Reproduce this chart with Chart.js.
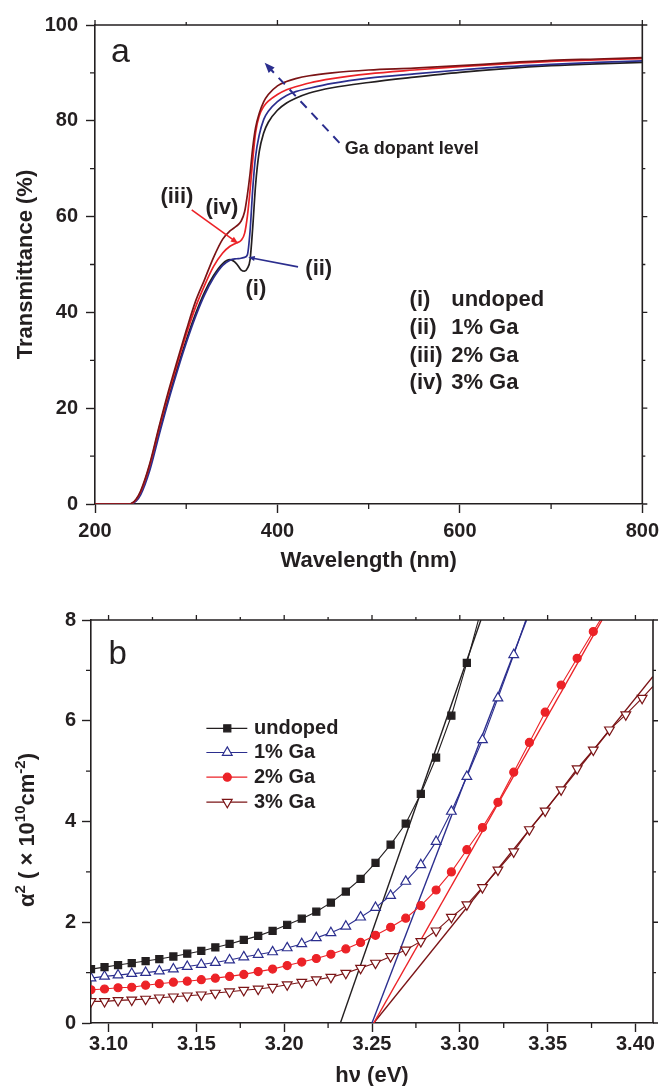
<!DOCTYPE html>
<html>
<head>
<meta charset="utf-8">
<title>Transmittance and absorption edge of Ga-doped films</title>
<script src="https://cdn.jsdelivr.net/npm/chart.js@4.4.1/dist/chart.umd.min.js"></script>
<style>
  html, body { margin: 0; padding: 0; background: #fff; }
  #wrap { position: relative; width: 665px; height: 1086px; }
  canvas { position: absolute; left: 0; }
  #chartA { top: 0; }
  #chartB { top: 580px; }
</style>
</head>
<body>
<div id="wrap">
  <canvas id="chartA" width="665" height="580"></canvas>
  <canvas id="chartB" width="665" height="506"></canvas>
</div>
<script>
// ---- panel (a): transmittance spectra ----
const wavelengths = [200, 238, 245, 250, 260, 270, 280, 290, 300, 310, 320, 330, 340, 348, 355, 360, 364, 367, 370, 373,
  376, 380, 385, 390, 400, 410, 420, 435, 460, 500, 550, 600, 650, 700, 750, 800];
const transUndoped = [0, 0, 0.8, 2.2, 7.6, 14.8, 21.8, 28.3, 34.2, 39.6, 44.2, 47.7, 50.2, 51.0, 50.2, 48.9, 48.6, 49.2, 51, 58,
  66.5, 73.5, 77.5, 79.7, 82.2, 83.7, 84.7, 85.8, 86.9, 88.0, 89.1, 90.1, 90.9, 91.5, 91.9, 92.2];
const transGa1 = [0, 0, 0.6, 1.9, 7.0, 14.2, 21.2, 27.6, 33.6, 39.0, 43.6, 47.2, 49.8, 50.9, 51.2, 51.3, 51.5, 52.0, 57, 66,
  72.5, 77, 80.3, 82, 84.0, 85.3, 86.1, 86.8, 87.8, 88.9, 89.8, 90.6, 91.3, 91.8, 92.2, 92.5];
const transGa2 = [0, 0, 0.9, 2.5, 8.1, 15.6, 22.7, 29.2, 35.4, 41.0, 45.6, 49.6, 52.4, 53.8, 54.5, 55.0, 56.5, 60, 65.5, 72,
  77.5, 81, 83, 84.1, 85.5, 86.5, 87.1, 87.9, 88.8, 89.8, 90.6, 91.3, 91.9, 92.4, 92.7, 93.0];
const transGa3 = [0, 0, 1.0, 2.7, 8.4, 16.0, 23.2, 29.8, 36.2, 42.2, 46.8, 51.5, 55.3, 57.0, 58.0, 59.0, 61, 64.5, 69, 74.5,
  78.5, 81.5, 84.0, 85.5, 87.3, 88.2, 88.8, 89.4, 90.0, 90.6, 91.0, 91.5, 92.1, 92.6, 92.9, 93.2];
const legendTextA = ['(i)', '(ii)', '(iii)', '(iv)'];
const legendNamesA = ['undoped', '1% Ga', '2% Ga', '3% Ga'];

// ---- panel (b): Tauc plot ----
const photonEnergy = [3.0900, 3.0977, 3.1054, 3.1132, 3.1211, 3.1289, 3.1369, 3.1448, 3.1528, 3.1608,
  3.1689, 3.1770, 3.1852, 3.1934, 3.2017, 3.2100, 3.2183, 3.2266, 3.2351, 3.2435,
  3.2520, 3.2606, 3.2692, 3.2778, 3.2865, 3.2952, 3.3040, 3.3129, 3.3217, 3.3307,
  3.3396, 3.3486, 3.3577, 3.3668, 3.3760, 3.3852, 3.3945, 3.4038, 3.4131];
const alphaUndoped = [1.07, 1.11, 1.15, 1.19, 1.23, 1.27, 1.32, 1.375, 1.43, 1.50,
  1.57, 1.65, 1.73, 1.83, 1.95, 2.07, 2.21, 2.39, 2.61, 2.86,
  3.18, 3.54, 3.96, 4.55, 5.27, 6.10, 7.15, 8.3];
const alphaGa1 = [0.89, 0.925, 0.95, 0.98, 1.00, 1.03, 1.07, 1.12, 1.16, 1.20,
  1.25, 1.31, 1.36, 1.41, 1.49, 1.57, 1.69, 1.79, 1.92, 2.10,
  2.29, 2.53, 2.81, 3.14, 3.60, 4.20, 4.89, 5.62, 6.45, 7.31, 8.2];
const alphaGa2 = [0.66, 0.675, 0.70, 0.71, 0.75, 0.78, 0.81, 0.83, 0.86, 0.89,
  0.925, 0.965, 1.02, 1.07, 1.14, 1.21, 1.28, 1.365, 1.47, 1.60,
  1.74, 1.90, 2.08, 2.33, 2.64, 3.00, 3.44, 3.88, 4.38, 4.98,
  5.57, 6.17, 6.71, 7.24, 7.77, 8.3];
const alphaGa3 = [0.43, 0.43, 0.45, 0.46, 0.475, 0.50, 0.52, 0.54, 0.56, 0.595,
  0.62, 0.65, 0.675, 0.71, 0.76, 0.81, 0.86, 0.91, 0.99, 1.09,
  1.19, 1.32, 1.45, 1.62, 1.83, 2.10, 2.35, 2.69, 3.04, 3.40,
  3.84, 4.21, 4.63, 5.05, 5.42, 5.82, 6.12, 6.45, 6.8];
// linear extrapolations of the absorption edge (end points)
const fitUndopedE = [3.232, 3.312];
const fitUndopedA = [0, 8];
const fitGa1E = [3.250, 3.338];
const fitGa1A = [0, 8];
const fitGa2E = [3.251, 3.381];
const fitGa2A = [0, 8];
const fitGa3E = [3.251, 3.41];
const fitGa3A = [0, 6.88];

const INK = '#231f20';
const BLUE = '#2b2e8e';
const RED = '#ec2227';
const MAROON = '#7b1416';
const FONT = '"Liberation Sans", Arial, Helvetica, sans-serif';

// frame on top/right, plus the short minor ticks
function frameTicks(isMajorX, isMajorY) {
    return {
        id: 'frameTicks',
        afterDraw(chart) {
            const { ctx, chartArea: a } = chart;
            const sx = chart.scales.x, sy = chart.scales.y;
            ctx.save();
            ctx.strokeStyle = INK;
            ctx.lineWidth = 1.6;
            ctx.beginPath();
            ctx.moveTo(a.left, a.top);
            ctx.lineTo(a.right, a.top);
            ctx.lineTo(a.right, a.bottom);
            ctx.stroke();
            ctx.lineWidth = 1.3;
            ctx.beginPath();
            sx.ticks.forEach(t => {
                const p = sx.getPixelForValue(t.value);
                const major = isMajorX(t.value);
                if (!major) { ctx.moveTo(p, a.bottom); ctx.lineTo(p, a.bottom + 5); }
                ctx.moveTo(p, a.top); ctx.lineTo(p, a.top - (major ? 5 : 3));
            });
            sy.ticks.forEach(t => {
                const p = sy.getPixelForValue(t.value);
                const major = isMajorY(t.value);
                if (!major) { ctx.moveTo(a.left, p); ctx.lineTo(a.left - 5, p); }
                ctx.moveTo(a.right, p); ctx.lineTo(a.right + (major ? 5 : 3), p);
            });
            ctx.stroke();
            ctx.restore();
        }
    };
}

function axis(min, max, step, isMajor, fmt, pad, fit) {
    return {
        type: 'linear', min, max,
        border: { display: true, color: INK, width: 1.6 },
        grid: {
            drawOnChartArea: false, drawTicks: true, tickLength: 9, tickWidth: 1.4,
            tickColor: c => (c.tick && isMajor(c.tick.value)) ? INK : 'rgba(0,0,0,0)'
        },
        ticks: {
            stepSize: step, autoSkip: false, maxRotation: 0, includeBounds: false, padding: pad,
            color: INK, font: { family: FONT, weight: 'bold', size: 20 },
            callback: v => isMajor(v) ? fmt(v) : ''
        },
        afterFit: fit
    };
}

function text(ctx, str, x, y, size, opts = {}) {
    ctx.save();
    ctx.font = `${opts.normal ? '' : 'bold '}${size}px ${FONT}`;
    ctx.fillStyle = opts.color || INK;
    ctx.textAlign = opts.align || 'center';
    ctx.textBaseline = opts.baseline || 'middle';
    ctx.translate(x, y);
    if (opts.rotate) ctx.rotate(-Math.PI / 2);
    ctx.fillText(str, 0, 0);
    ctx.restore();
}

// text with superscript pieces, centred on (cx, cy)
function richText(ctx, parts, cx, cy, size, rotate) {
    const supSize = Math.round(size * 0.68);
    ctx.save();
    ctx.fillStyle = INK;
    ctx.translate(cx, cy);
    if (rotate) ctx.rotate(-Math.PI / 2);
    ctx.textAlign = 'left';
    ctx.textBaseline = 'alphabetic';
    const widths = parts.map(p => {
        ctx.font = `bold ${p.sup ? supSize : size}px ${FONT}`;
        return ctx.measureText(p.t).width;
    });
    let x = -widths.reduce((s, w) => s + w, 0) / 2;
    const base = size * 0.36;
    parts.forEach((p, i) => {
        ctx.font = `bold ${p.sup ? supSize : size}px ${FONT}`;
        ctx.fillText(p.t, x, p.sup ? base - size * 0.42 : base);
        x += widths[i];
    });
    ctx.restore();
}

function arrow(ctx, x0, y0, x1, y1, color, width, head, dash) {
    const ang = Math.atan2(y1 - y0, x1 - x0);
    ctx.save();
    ctx.strokeStyle = color;
    ctx.fillStyle = color;
    ctx.lineWidth = width;
    if (dash) ctx.setLineDash(dash);
    ctx.beginPath();
    ctx.moveTo(x0, y0);
    ctx.lineTo(x1 - Math.cos(ang) * head * 0.7, y1 - Math.sin(ang) * head * 0.7);
    ctx.stroke();
    ctx.setLineDash([]);
    ctx.beginPath();
    ctx.moveTo(x1, y1);
    ctx.lineTo(x1 - head * Math.cos(ang - 0.38), y1 - head * Math.sin(ang - 0.38));
    ctx.lineTo(x1 - head * Math.cos(ang + 0.38), y1 - head * Math.sin(ang + 0.38));
    ctx.closePath();
    ctx.fill();
    ctx.restore();
}

function marker(ctx, style, x, y, r, rotation, fill, stroke, lw) {
    ctx.save();
    ctx.fillStyle = fill;
    ctx.strokeStyle = stroke;
    ctx.lineWidth = lw;
    ctx.beginPath();
    if (style === 'rect') {
        const h = r * Math.SQRT1_2;
        ctx.rect(x - h, y - h, 2 * h, 2 * h);
    } else if (style === 'circle') {
        ctx.arc(x, y, r, 0, Math.PI * 2);
    } else {
        let a = rotation * Math.PI / 180;
        for (let k = 0; k < 3; k++) {
            const px = x + Math.sin(a) * r, py = y - Math.cos(a) * r;
            k ? ctx.lineTo(px, py) : ctx.moveTo(px, py);
            a += Math.PI * 2 / 3;
        }
        ctx.closePath();
    }
    ctx.fill();
    ctx.stroke();
    ctx.restore();
}

// ---------------- chart (a) ----------------
const curvesA = [
    { name: 'undoped', values: transUndoped, color: INK },
    { name: '1% Ga', values: transGa1, color: BLUE },
    { name: '2% Ga', values: transGa2, color: RED },
    { name: '3% Ga', values: transGa3, color: MAROON }
];

const notesA = {
    id: 'notesA',
    afterDraw(chart) {
        const { ctx } = chart;
        const X = v => chart.scales.x.getPixelForValue(v);
        const Y = v => chart.scales.y.getPixelForValue(v);

        text(ctx, 'a', X(217.5), Y(92.3), 34, { normal: true, align: 'left', baseline: 'alphabetic' });

        // dopant trend arrow
        arrow(ctx, X(468), Y(75.4), X(386), Y(92.1), BLUE, 2, 11, [9, 7]);
        text(ctx, 'Ga dopant level', X(473.7), Y(74.1), 18, { align: 'left' });

        // curve labels
        arrow(ctx, X(306), Y(61.4), X(357), Y(54.4), RED, 1.6, 8);
        arrow(ctx, X(422.6), Y(49.5), X(368), Y(51.5), BLUE, 1.6, 7);
        text(ctx, '(iii)', X(289.8), Y(64.1), 22);
        text(ctx, '(iv)', X(339.1), Y(61.8), 22);
        text(ctx, '(ii)', X(445.3), Y(49.1), 22);
        text(ctx, '(i)', X(376.3), Y(44.9), 22);

        const rows = [42.6, 36.8, 31.0, 25.2];
        rows.forEach((t, i) => {
            text(ctx, legendTextA[i], X(544.9), Y(t), 22, { align: 'left' });
            text(ctx, legendNamesA[i], X(590.5), Y(t), 22, { align: 'left' });
        });

        text(ctx, 'Transmittance (%)', 26, chart.chartArea.top + chart.chartArea.height / 2, 22, { rotate: true });
        text(ctx, 'Wavelength (nm)', (chart.chartArea.left + chart.chartArea.right) / 2, 561, 22);
    }
};

const majorA_x = v => v % 200 === 0;
const majorA_y = v => v % 20 === 0;

new Chart(document.getElementById('chartA'), {
    type: 'line',
    data: {
        datasets: curvesA.slice().reverse().map(c => ({
            label: c.name,
            data: wavelengths.map((w, i) => ({ x: w, y: c.values[i] })),
            borderColor: c.color,
            borderWidth: 1.7,
            pointRadius: 0,
            fill: false,
            cubicInterpolationMode: 'monotone'
        }))
    },
    options: {
        responsive: false,
        animation: false,
        layout: { padding: { top: 25, right: 22, left: 0, bottom: 0 } },
        plugins: { legend: { display: false }, tooltip: { enabled: false } },
        scales: {
            x: axis(200, 800, 100, majorA_x, v => String(v), 6, s => { s.height = 76; }),
            y: axis(0, 100, 10, majorA_y, v => String(v), 8, s => { s.width = 95; })
        }
    },
    plugins: [frameTicks(majorA_x, majorA_y), notesA]
});

// ---------------- chart (b) ----------------
const seriesB = [
    { name: 'undoped', values: alphaUndoped, color: INK, style: 'rect', r: 5, rot: 0, fill: INK, fitE: fitUndopedE, fitA: fitUndopedA },
    { name: '1% Ga', values: alphaGa1, color: BLUE, style: 'triangle', r: 5.6, rot: 0, fill: '#fff', fitE: fitGa1E, fitA: fitGa1A },
    { name: '2% Ga', values: alphaGa2, color: RED, style: 'circle', r: 4, rot: 0, fill: RED, fitE: fitGa2E, fitA: fitGa2A },
    { name: '3% Ga', values: alphaGa3, color: MAROON, style: 'triangle', r: 5.6, rot: 180, fill: '#fff', fitE: fitGa3E, fitA: fitGa3A }
];

const datasetsB = [];
seriesB.forEach(s => {
    datasetsB.push({
        label: s.name,
        data: s.values.map((v, i) => ({ x: photonEnergy[i], y: v })),
        borderColor: s.color,
        borderWidth: 1.1,
        pointStyle: s.style,
        pointRadius: s.r,
        pointRotation: s.rot,
        pointBackgroundColor: s.fill,
        pointBorderColor: s.color,
        pointBorderWidth: 1.2,
        tension: 0,
        order: 1
    });
    datasetsB.push({
        label: s.name + ' fit',
        data: s.fitE.map((e, i) => ({ x: e, y: s.fitA[i] })),
        borderColor: s.color,
        borderWidth: 1.4,
        pointRadius: 0,
        tension: 0,
        order: 2
    });
});

const notesB = {
    id: 'notesB',
    afterDraw(chart) {
        const { ctx } = chart;
        const X = v => chart.scales.x.getPixelForValue(v);
        const Y = v => chart.scales.y.getPixelForValue(v);

        text(ctx, 'b', X(3.0999), Y(7.13), 33, { normal: true, align: 'left', baseline: 'alphabetic' });

        const rows = [5.85, 5.37, 4.88, 4.385];
        seriesB.forEach((s, i) => {
            const y = Y(rows[i]);
            ctx.save();
            ctx.strokeStyle = s.color;
            ctx.lineWidth = 1.2;
            ctx.beginPath();
            ctx.moveTo(X(3.1557), y);
            ctx.lineTo(X(3.1790), y);
            ctx.stroke();
            ctx.restore();
            marker(ctx, s.style, X(3.1676), y, s.r, s.rot, s.fill, s.color, 1.2);
            text(ctx, s.name, X(3.1828), y, 20, { align: 'left' });
        });

        richText(ctx, [
            { t: 'α' }, { t: '2', sup: true }, { t: ' ( × 10' }, { t: '10', sup: true },
            { t: 'cm' }, { t: '-2', sup: true }, { t: ')' }
        ], 26, 250, 22, true);
        text(ctx, 'hν (eV)', (chart.chartArea.left + chart.chartArea.right) / 2, 496, 22);
    }
};

const majorB_x = v => Math.round(v * 1000) % 50 === 0;
const majorB_y = v => Math.round(v) % 2 === 0;

new Chart(document.getElementById('chartB'), {
    type: 'line',
    data: { datasets: datasetsB },
    options: {
        responsive: false,
        animation: false,
        layout: { padding: { top: 40, right: 12, left: 0, bottom: 0 } },
        plugins: { legend: { display: false }, tooltip: { enabled: false } },
        scales: {
            x: axis(3.09, 3.41, 0.025, majorB_x, v => v.toFixed(2), 0, s => { s.height = 63; }),
            y: axis(0, 8, 1, majorB_y, v => String(v), 6, s => { s.width = 91; })
        }
    },
    plugins: [frameTicks(majorB_x, majorB_y), notesB]
});
</script>
</body>
</html>
